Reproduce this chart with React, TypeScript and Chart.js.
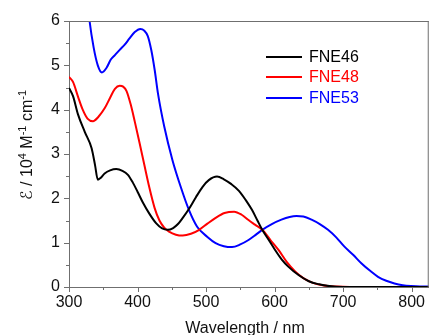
import React, { useEffect, useRef } from "react";
import { Chart, registerables } from "chart.js";
Chart.register(...registerables);

const seriesNames = ["FNE46", "FNE48", "FNE53"];
const seriesColors = ["#000000", "#ff0000", "#0000ff"];

const wl46 = [300, 306, 313, 323, 333, 338, 342, 346, 352, 360, 369, 378, 386, 393, 400, 408, 417, 427, 436, 444, 452, 459, 466, 475, 485, 495, 504, 516, 526, 537, 548, 558, 567, 575, 582, 592, 601, 610, 620, 635, 650, 665, 680, 700, 825];
const eps46 = [4.49, 4.3, 3.9, 3.5, 3.13, 2.75, 2.42, 2.46, 2.56, 2.63, 2.66, 2.62, 2.53, 2.36, 2.15, 1.9, 1.66, 1.44, 1.32, 1.29, 1.33, 1.42, 1.56, 1.76, 2.02, 2.26, 2.41, 2.49, 2.43, 2.32, 2.17, 1.96, 1.74, 1.5, 1.29, 1.05, 0.83, 0.63, 0.46, 0.27, 0.13, 0.06, 0.02, 0, 0];

const wl48 = [300, 306, 313, 320, 327, 335, 343, 352, 360, 367, 374, 379, 384, 390, 396, 403, 410, 417, 425, 432, 439, 446, 456, 466, 478, 490, 502, 514, 527, 541, 552, 562, 572, 582, 594, 606, 618, 630, 642, 655, 670, 690, 710, 825];
const eps48 = [4.74, 4.62, 4.3, 4.0, 3.8, 3.74, 3.84, 4.03, 4.27, 4.47, 4.54, 4.52, 4.42, 4.12, 3.73, 3.25, 2.75, 2.26, 1.78, 1.5, 1.34, 1.25, 1.18, 1.16, 1.2, 1.29, 1.43, 1.56, 1.67, 1.7, 1.63, 1.51, 1.4, 1.29, 1.06, 0.83, 0.56, 0.35, 0.2, 0.1, 0.04, 0.01, 0, 0];

const wl53 = [318, 324, 330, 336, 342, 348, 355, 361, 367, 374, 381, 388, 396, 404, 410, 415, 420, 425, 430, 439, 451, 463, 475, 487, 502, 514, 526, 538, 550, 562, 572, 582, 596, 610, 622, 632, 642, 654, 666, 678, 690, 702, 715, 727, 739, 751, 763, 775, 787, 799, 812, 825];
const eps53 = [8.0, 6.9, 6.0, 5.4, 5.0, 4.84, 4.95, 5.13, 5.23, 5.35, 5.46, 5.6, 5.75, 5.82, 5.78, 5.66, 5.35, 4.9, 4.35, 3.62, 2.86, 2.26, 1.74, 1.36, 1.13, 0.99, 0.92, 0.9, 0.96, 1.06, 1.17, 1.29, 1.42, 1.52, 1.58, 1.6, 1.59, 1.52, 1.42, 1.29, 1.12, 0.91, 0.72, 0.53, 0.37, 0.23, 0.14, 0.08, 0.04, 0.02, 0.01, 0.01];

const xTicks = [300, 350, 400, 450, 500, 550, 600, 650, 700, 750, 800];
const yTicks = [0, 0.5, 1, 1.5, 2, 2.5, 3, 3.5, 4, 4.5, 5, 5.5, 6];
const xTitle = "Wavelength / nm";

const FONT = "'Liberation Sans', Arial, 'DejaVu Sans', sans-serif";
const AXIS = "#6f6f6f";

export default function App() {
  const ref = useRef<HTMLCanvasElement>(null);
  useEffect(() => {
    const canvas = ref.current!;
    const pts = (xs: number[], ys: number[]) => xs.map((x, i) => ({ x, y: ys[i] }));
    const series = [pts(wl46, eps46), pts(wl48, eps48), pts(wl53, eps53)];

    const decor = {
      id: "decor",
      afterDraw(chart: any) {
        const ctx = chart.ctx;
        const ca = chart.chartArea;
        const xs = chart.scales.x;
        const ys = chart.scales.y;
        ctx.save();
        ctx.strokeStyle = AXIS;
        ctx.lineWidth = 1;
        ctx.beginPath();
        ctx.moveTo(ca.left, ca.top + 0.5);
        ctx.lineTo(ca.right, ca.top + 0.5);
        ctx.moveTo(ca.right - 0.5, ca.top);
        ctx.lineTo(ca.right - 0.5, ca.bottom);
        ctx.stroke();
        ctx.beginPath();
        xTicks.forEach((v) => {
          const px = Math.round(xs.getPixelForValue(v)) + 0.5;
          const len = v % 100 === 0 ? 5 : 3;
          ctx.moveTo(px, ca.bottom);
          ctx.lineTo(px, ca.bottom + len);
        });
        yTicks.forEach((v) => {
          const py = Math.round(ys.getPixelForValue(v)) + 0.5;
          const len = v % 1 === 0 ? 5 : 3;
          ctx.moveTo(ca.left, py);
          ctx.lineTo(ca.left - len, py);
        });
        ctx.stroke();

        ctx.font = "16px " + FONT;
        ctx.textBaseline = "middle";
        ctx.textAlign = "left";
        const rows = [57, 77, 98];
        seriesNames.forEach((n, i) => {
          ctx.strokeStyle = seriesColors[i];
          ctx.lineWidth = 2;
          ctx.beginPath();
          ctx.moveTo(266, rows[i]);
          ctx.lineTo(302, rows[i]);
          ctx.stroke();
          ctx.fillStyle = seriesColors[i];
          ctx.fillText(n, 309, rows[i] + 1);
        });

        ctx.fillStyle = "#111";
        ctx.textAlign = "center";
        ctx.textBaseline = "alphabetic";
        ctx.font = "16px " + FONT;
        ctx.fillText(xTitle, 245, 333);

        const parts: [string, boolean, boolean][] = [
          ["\u2130", false, true],
          [" / 10", false, false],
          ["4", true, false],
          [" M", false, false],
          ["-1", true, false],
          [" cm", false, false],
          ["-1", true, false],
        ];
        const fontFor = (sup: boolean, it: boolean) =>
          (it ? "italic " : "") + (sup ? "11px " : "16px ") + FONT;
        let total = 0;
        parts.forEach(([t, s, it]) => {
          ctx.font = fontFor(s, it);
          total += ctx.measureText(t).width;
        });
        ctx.translate(32, 145);
        ctx.rotate(-Math.PI / 2);
        ctx.textAlign = "left";
        let cx = -total / 2;
        parts.forEach(([t, s, it]) => {
          ctx.font = fontFor(s, it);
          ctx.fillText(t, cx, s ? -6 : 0);
          cx += ctx.measureText(t).width;
        });
        ctx.restore();
      },
    };

    const chart = new Chart(canvas, {
      type: "scatter",
      data: {
        datasets: series.map((d, i) => ({
          label: seriesNames[i],
          data: d,
          showLine: true,
          borderColor: seriesColors[i],
          backgroundColor: seriesColors[i],
          borderWidth: 2,
          pointRadius: 0,
          cubicInterpolationMode: "monotone" as const,
          fill: false,
        })),
      },
      options: {
        animation: false,
        responsive: false,
        maintainAspectRatio: false,
        events: [],
        layout: { padding: { top: 21, left: 0, right: 1, bottom: 0 } },
        plugins: { legend: { display: false }, tooltip: { enabled: false } },
        scales: {
          x: {
            type: "linear",
            min: 300,
            max: 825,
            afterBuildTicks: (s: any) => {
              s.ticks = xTicks.map((v) => ({ value: v }));
            },
            afterFit: (s: any) => {
              s.height = 48;
            },
            grid: { display: true, drawOnChartArea: false, drawTicks: false },
            border: { display: true, color: AXIS, width: 1 },
            ticks: {
              autoSkip: false,
              maxRotation: 0,
              padding: 6,
              color: "#111",
              font: { family: FONT, size: 16 },
              callback: (v: any) => (Number(v) % 100 === 0 ? String(v) : ""),
            },
          },
          y: {
            type: "linear",
            min: 0,
            max: 6,
            afterBuildTicks: (s: any) => {
              s.ticks = yTicks.map((v) => ({ value: v }));
            },
            afterFit: (s: any) => {
              s.width = 69;
            },
            grid: { display: true, drawOnChartArea: false, drawTicks: false },
            border: { display: true, color: AXIS, width: 1 },
            ticks: {
              autoSkip: false,
              padding: 9,
              color: "#111",
              font: { family: FONT, size: 16 },
              callback: (v: any) => (Number(v) % 1 === 0 ? String(v) : ""),
            },
          },
        },
      },
      plugins: [decor],
    } as any);
    return () => chart.destroy();
  }, []);

  return (
    <div style={{ position: "fixed", left: 0, top: 0, width: 431, height: 335, background: "#fff" }}>
      <canvas ref={ref} width={431} height={335} style={{ width: 431, height: 335, display: "block" }} />
    </div>
  );
}
